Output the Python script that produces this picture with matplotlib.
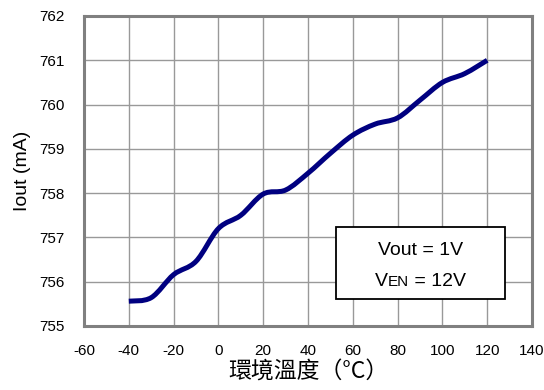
import matplotlib
matplotlib.use("Agg")
import matplotlib.pyplot as plt
import numpy as np
from matplotlib.path import Path
from matplotlib.patches import PathPatch, Rectangle
from matplotlib.offsetbox import TextArea, HPacker, AnnotationBbox

temps = [-40, -30, -20, -10, 0, 10, 20, 30, 40, 50, 60, 70, 80, 90, 100, 110, 120]
iout = [755.56, 755.64, 756.16, 756.46, 757.2, 757.5, 757.98, 758.07, 758.45, 758.9,
        759.31, 759.56, 759.7, 760.1, 760.5, 760.7, 761.0]
xticks = [-60, -40, -20, 0, 20, 40, 60, 80, 100, 120, 140]
yticks = [755, 756, 757, 758, 759, 760, 761, 762]

plt.rcParams['font.family'] = ['Liberation Sans', 'DejaVu Sans']
plt.rcParams['axes.unicode_minus'] = False

fig = plt.figure(figsize=(5.44, 3.90), dpi=100)
ax = fig.add_axes([84/544, 1-326/390, (532-84)/544, (326-16)/390])

# smooth line through the points (Catmull-Rom -> cubic Bezier, rendered by matplotlib Path)
xs = np.array(temps, float); ys = np.array(iout, float)
verts = [(xs[0], ys[0])]; codes = [Path.MOVETO]
n = len(xs)
for i in range(n-1):
    p0 = (xs[max(i-1, 0)], ys[max(i-1, 0)])
    p1 = (xs[i], ys[i]); p2 = (xs[i+1], ys[i+1])
    p3 = (xs[min(i+2, n-1)], ys[min(i+2, n-1)])
    c1 = (p1[0] + (p2[0]-p0[0])/6, p1[1] + (p2[1]-p0[1])/6)
    c2 = (p2[0] - (p3[0]-p1[0])/6, p2[1] - (p3[1]-p1[1])/6)
    verts += [c1, c2, p2]; codes += [Path.CURVE4]*3
ax.add_patch(PathPatch(Path(verts, codes), fill=False, edgecolor='#000080', lw=3.6,
                       capstyle='butt', joinstyle='round', zorder=3))

ax.set_xlim(-60, 140)
ax.set_ylim(755, 762)
ax.set_xticks(xticks)
ax.set_yticks(yticks)
ax.grid(True, color='#999999', lw=1.0)
ax.set_axisbelow(True)
ax.tick_params(length=0, labelsize=11)
ax.tick_params(axis='y', pad=14)
ax.tick_params(axis='x', pad=13)
for s in ax.spines.values():
    s.set_color('#808080'); s.set_linewidth(2.2)

ax.set_ylabel('Iout (mA)', fontsize=14, labelpad=6)
ax.set_xlabel('環境溫度（°C）', fontsize=16.5, family=['Noto Sans CJK TC', 'DejaVu Sans'], labelpad=2)

# annotation box
bx0, by0 = (336-84)/448, (326-299)/310
bw, bh = (505-336)/448, (299-227)/310
ax.add_patch(Rectangle((bx0, by0), bw, bh, transform=ax.transAxes, facecolor='white',
                       edgecolor='black', lw=1.3, zorder=4))
ax.text(bx0+bw/2, by0+bh*0.68, 'Vout = 1V', transform=ax.transAxes, ha='center', va='center',
        fontsize=14, zorder=5)
pk = HPacker(children=[TextArea('V', textprops=dict(fontsize=14)),
                       TextArea('EN', textprops=dict(fontsize=11)),
                       TextArea(' = 12V', textprops=dict(fontsize=14))],
             align='baseline', pad=0, sep=0)
ab = AnnotationBbox(pk, (bx0+bw/2, by0+bh*0.25), xycoords='axes fraction', frameon=False,
                    box_alignment=(0.5, 0.5), zorder=5)
ax.add_artist(ab)

fig.savefig('out.png', dpi=100)
